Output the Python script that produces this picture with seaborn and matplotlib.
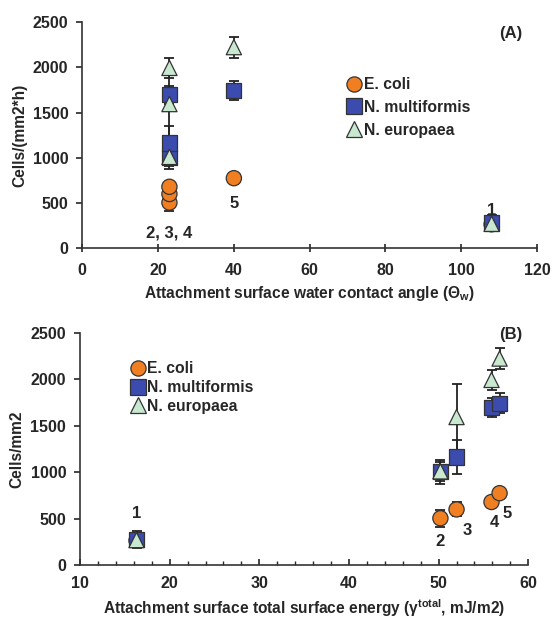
import seaborn as sns
import matplotlib.pyplot as plt
import pandas as pd

# five attachment surfaces, labelled 1-5
surfaces = ['1', '2', '3', '4', '5']
contact_angle = [108, 23, 23, 23, 40]
surface_energy = [16.3, 50.2, 52.0, 55.9, 56.8]

ecoli = [265, 505, 600, 680, 775]
ecoli_err = [60, 90, 75, 45, 40]
multi = [280, 1005, 1165, 1700, 1745]
multi_err = [90, 130, 185, 100, 105]
euro = [270, 1010, 1595, 1995, 2225]
euro_err = [70, 100, 360, 110, 115]

strains = ['E. coli', 'N. multiformis', 'N. europaea']
colors = {'E. coli': '#F07F22', 'N. multiformis': '#3B4BAE', 'N. europaea': '#C8E8D0'}
markers = {'E. coli': 'o', 'N. multiformis': 's', 'N. europaea': '^'}

rows = []
for name, vals, errs in zip(strains, [ecoli, multi, euro], [ecoli_err, multi_err, euro_err]):
    for i in range(5):
        rows.append({'surface': surfaces[i], 'angle': contact_angle[i],
                     'energy': surface_energy[i], 'cells': vals[i],
                     'err': errs[i], 'strain': name})
df = pd.DataFrame(rows)

sns.set_style('ticks')
plt.rcParams['font.family'] = ['Liberation Sans', 'DejaVu Sans']
plt.rcParams['font.weight'] = 'bold'
plt.rcParams['axes.labelweight'] = 'bold'
plt.rcParams['mathtext.fontset'] = 'custom'
plt.rcParams['mathtext.rm'] = 'Liberation Sans:bold'
plt.rcParams['mathtext.it'] = 'Liberation Sans:bold'
plt.rcParams['mathtext.bf'] = 'Liberation Sans:bold'

fig = plt.figure(figsize=(5.52, 6.19), dpi=100)
axA = fig.add_axes([0.149, 0.599, 0.824, 0.365])
axB = fig.add_axes([0.145, 0.087, 0.812, 0.375])


def draw(ax, xcol):
    for name in strains:
        sub = df[df['strain'] == name]
        ax.errorbar(sub[xcol], sub['cells'], yerr=sub['err'], fmt='none',
                    ecolor='#222222', elinewidth=1.3, capsize=3.5, capthick=1.3, zorder=2)
    sns.scatterplot(data=df, x=xcol, y='cells', hue='strain', style='strain',
                    palette=colors, markers=markers, s=120, edgecolor='#333333',
                    linewidth=0.9, ax=ax, zorder=3)
    sns.despine(ax=ax)
    ax.set_ylim(0, 2500)
    ax.set_yticks(range(0, 2501, 500))
    ax.tick_params(labelsize=11.5, width=1.2, length=4)
    ax.tick_params(axis='y', pad=6)
    ax.tick_params(axis='x', pad=8)
    for s in ['left', 'bottom']:
        ax.spines[s].set_linewidth(1.2)
        ax.spines[s].set_color('#333333')


draw(axA, 'angle')
axA.set_xlim(0, 120)
axA.set_xticks(range(0, 121, 20))
axA.tick_params(axis='x', direction='inout', length=6)
axA.set_xlabel('Attachment surface water contact angle (Θ$_\\mathregular{w}$)', fontsize=11.2)
axA.set_ylabel('Cells/(mm2*h)', fontsize=11.2)
sns.move_legend(axA, 'upper left', bbox_to_anchor=(0.55, 0.82), frameon=False, title=None,
                fontsize=11.3, handletextpad=0.1, labelspacing=0.5, handlelength=1.0)
axA.text(23, 170, '2, 3, 4', ha='center', va='center', fontsize=12)
axA.text(40, 500, '5', ha='center', va='center', fontsize=12)
axA.text(108, 420, '1', ha='center', va='center', fontsize=12)
axA.text(113, 2380, '(A)', ha='center', va='center', fontsize=12)

draw(axB, 'energy')
axB.set_xlim(10, 60)
axB.set_xticks(range(10, 61, 10))
axB.set_xticks(range(10, 61, 2), minor=True)
axB.tick_params(axis='x', which='both', direction='in')
axB.tick_params(axis='x', which='minor', length=3, width=1.0)
axB.set_xlabel('Attachment surface total surface energy (γ$^\\mathregular{total}$, mJ/m2)', fontsize=11.2)
axB.set_ylabel('Cells/mm2', fontsize=11.2)
sns.move_legend(axB, 'upper left', bbox_to_anchor=(0.08, 0.94), frameon=False, title=None,
                fontsize=11.3, handletextpad=0.1, labelspacing=0.25, handlelength=1.0)
axB.text(16.3, 560, '1', ha='center', va='center', fontsize=12)
axB.text(50.2, 250, '2', ha='center', va='center', fontsize=12)
axB.text(53.2, 375, '3', ha='center', va='center', fontsize=12)
axB.text(56.2, 460, '4', ha='center', va='center', fontsize=12)
axB.text(57.7, 560, '5', ha='center', va='center', fontsize=12)
axB.text(58, 2480, '(B)', ha='center', va='center', fontsize=12)

fig.savefig('out.png', dpi=100)
